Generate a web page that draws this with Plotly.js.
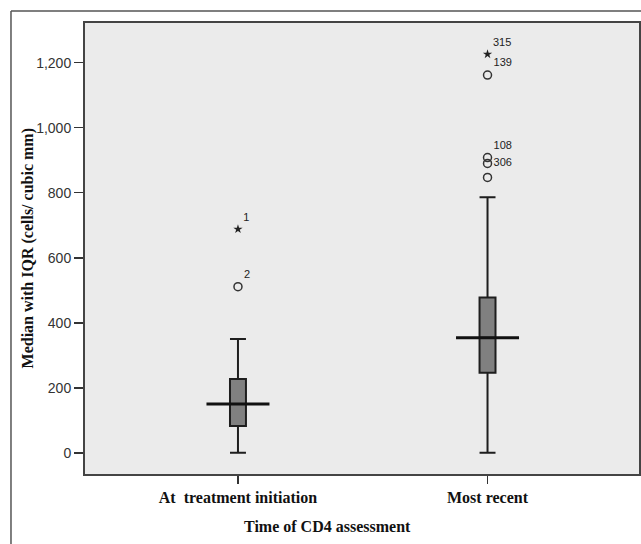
<!DOCTYPE html>
<html>
<head>
<meta charset="utf-8">
<script src="https://cdn.plot.ly/plotly-3.0.1.min.js"></script>
<style>body{margin:0;padding:0;background:#fff;}#chart{width:641px;height:544px;}</style>
</head>
<body>
<div id="chart"></div>
<script>
// Data
var categories = ["At\u00a0 treatment initiation", "Most recent"];
var lowerWhisker = [0, 0];
var q1Values = [83, 246];
var medianValues = [150, 354];
var q3Values = [227, 478];
var upperWhisker = [350, 786];

// Outliers
var circleCat = [categories[0], categories[1], categories[1], categories[1], categories[1]];
var circleValues = [511, 1162, 908, 890, 847];
var circleLabels = ["2", "139", "108", "306", ""];
var circleLabelPos = ["top right", "top right", "top right", "middle right", "top right"];

var starCat = [categories[0], categories[1]];
var starValues = [688, 1226];
var starLabels = ["1", "315"];

var yTicks = [0, 200, 400, 600, 800, 1000, 1200];

var traces = [
  {
    type: "box",
    x: categories,
    q1: q1Values,
    median: medianValues,
    q3: q3Values,
    lowerfence: lowerWhisker,
    upperfence: upperWhisker,
    boxpoints: false,
    width: 0.064,
    whiskerwidth: 1,
    fillcolor: "#808080",
    line: {color: "#1e1e1e", width: 2},
    hoverinfo: "skip",
    showlegend: false
  },
  {
    type: "scatter",
    mode: "markers",
    x: categories,
    y: medianValues,
    marker: {symbol: "line-ew", size: 45, line: {color: "#111", width: 3}},
    hoverinfo: "skip",
    showlegend: false
  },
  {
    type: "scatter",
    mode: "markers+text",
    x: circleCat,
    y: circleValues,
    text: circleLabels,
    textposition: circleLabelPos,
    textfont: {family: "Liberation Sans, Arial, sans-serif", size: 11, color: "#222"},
    marker: {symbol: "circle-open", size: 8, color: "#333", line: {color: "#333", width: 1.5}},
    cliponaxis: false,
    hoverinfo: "skip",
    showlegend: false
  },
  {
    type: "scatter",
    mode: "markers+text",
    x: starCat,
    y: starValues,
    text: starLabels,
    textposition: "top right",
    textfont: {family: "Liberation Sans, Arial, sans-serif", size: 11, color: "#222"},
    marker: {symbol: "star", size: 7, color: "#222", line: {width: 0}},
    cliponaxis: false,
    hoverinfo: "skip",
    showlegend: false
  }
];

var layout = {
  width: 641,
  height: 544,
  margin: {l: 85, r: 2, t: 23, b: 70},
  paper_bgcolor: "#ffffff",
  plot_bgcolor: "#ebebeb",
  showlegend: false,
  xaxis: {
    type: "category",
    range: [-0.613, 1.607],
    showgrid: false,
    zeroline: false,
    showline: true,
    mirror: true,
    linecolor: "#444",
    linewidth: 2,
    ticks: "outside",
    ticklen: 8,
    tickwidth: 1.5,
    tickcolor: "#333",
    tickfont: {family: "Liberation Serif, Times New Roman, serif", size: 16, color: "#111", weight: "bold"},
    fixedrange: true
  },
  yaxis: {
    range: [-65, 1322],
    tickvals: yTicks,
    tickformat: ",d",
    showgrid: false,
    zeroline: false,
    showline: true,
    mirror: true,
    linecolor: "#444",
    linewidth: 2,
    ticks: "outside",
    ticklen: 9,
    tickwidth: 1.5,
    tickcolor: "#333",
    tickfont: {family: "Liberation Sans, Arial, sans-serif", size: 14, color: "#333"},
    fixedrange: true
  },
  annotations: [
    {
      text: "<b>Median with IQR (cells/ cubic mm)</b>",
      xref: "paper", yref: "paper",
      x: -0.103, y: 0.5,
      xanchor: "center", yanchor: "middle",
      textangle: -90,
      showarrow: false,
      font: {family: "Liberation Serif, Times New Roman, serif", size: 16, color: "#111"}
    },
    {
      text: "<b>Time of CD4 assessment</b>",
      xref: "paper", yref: "paper",
      x: 0.4386, y: -0.117,
      xanchor: "center", yanchor: "middle",
      showarrow: false,
      font: {family: "Liberation Serif, Times New Roman, serif", size: 16, color: "#111"}
    }
  ],
  shapes: [
    {type: "line", xref: "paper", yref: "paper", x0: -0.1336, x1: 1.2, y0: 1.0266, y1: 1.0266, line: {color: "#555", width: 1.5}},
    {type: "line", xref: "paper", yref: "paper", x0: -0.1336, x1: -0.1336, y0: 1.0266, y1: -0.3, line: {color: "#555", width: 1.5}}
  ]
};

Plotly.newPlot("chart", traces, layout, {displayModeBar: false, staticPlot: true});
</script>
</body>
</html>
